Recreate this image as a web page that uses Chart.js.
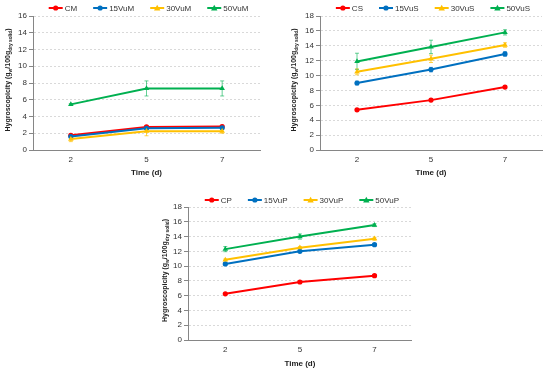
<!DOCTYPE html>
<html>
<head>
<meta charset="utf-8">
<script src="https://cdn.jsdelivr.net/npm/chart.js@4"></script>
<style>
  body { margin: 0; background: #fff; }
  #wrap { position: relative; width: 550px; height: 371px; }
  .box { position: absolute; }
</style>
</head>
<body>
<div id="wrap">
  <div class="box" style="left:0;top:0;width:275px;height:180px"><canvas id="chartM"></canvas></div>
  <div class="box" style="left:275px;top:0;width:275px;height:180px"><canvas id="chartS"></canvas></div>
  <div class="box" style="left:140px;top:180px;width:275px;height:191px"><canvas id="chartP"></canvas></div>
</div>
<script>
// time axis (days)
const times = ['2', '5', '7'];

// M samples
const namesM = ['CM', '15VuM', '30VuM', '50VuM'];
const valuesM = [[1.75, 2.75, 2.8], [1.6, 2.6, 2.65], [1.3, 2.25, 2.25], [5.45, 7.35, 7.35]];
const errorsM = [[0.15, 0.15, 0.15], [0.1, 0.1, 0.1], [0.3, 0.55, 0.25], [0.1, 0.9, 0.9]];
const yMaxM = 16;

// S samples
const namesS = ['CS', '15VuS', '30VuS', '50VuS'];
const valuesS = [[5.4, 6.7, 8.45], [9.0, 10.8, 12.9], [10.5, 12.25, 14.1], [11.9, 13.85, 15.8]];
const errorsS = [[0.15, 0.2, 0.15], [0.25, 0.3, 0.3], [0.4, 0.5, 0.3], [1.1, 0.9, 0.35]];
const yMaxS = 18;

// P samples
const namesP = ['CP', '15VuP', '30VuP', '50VuP'];
const valuesP = [[6.25, 7.85, 8.7], [10.3, 12.0, 12.9], [10.85, 12.5, 13.7], [12.3, 14.0, 15.55]];
const errorsP = [[0.1, 0.1, 0.15], [0.15, 0.15, 0.15], [0.1, 0.15, 0.2], [0.35, 0.35, 0.2]];
const yMaxP = 18;

const colors = ['#ff0000', '#0070c0', '#ffc000', '#00b050'];
const errColors = ['rgba(255,0,0,0.6)', 'rgba(0,112,192,0.6)', 'rgba(255,192,0,0.7)', 'rgba(0,176,80,0.6)'];
const shapes = ['circle', 'circle', 'triangle', 'triangle'];
const FONT = 'Arial, "Liberation Sans", sans-serif';

function drawMarker(g, x, y, color, shape) {
  g.fillStyle = color;
  g.beginPath();
  if (shape === 'circle') {
    g.arc(x, y, 2.6, 0, Math.PI * 2);
  } else {
    g.moveTo(x, y - 3.2); g.lineTo(x + 3.2, y + 2.4); g.lineTo(x - 3.2, y + 2.4); g.closePath();
  }
  g.fill();
}

// legend: short line with marker, then label
const lineLegend = {
  id: 'lineLegend',
  afterDraw(chart, args, opts) {
    const ctx = chart.ctx;
    ctx.save();
    ctx.font = '8px ' + FONT;
    const items = chart.data.datasets.map(ds => ({ ds, w: 14 + 2 + ctx.measureText(ds.label).width }));
    const gap = 16;
    const total = items.reduce((a, it) => a + it.w, 0) + gap * (items.length - 1);
    let x = (chart.chartArea.left + chart.chartArea.right) / 2 - total / 2 + 2;
    const y = opts.y;
    items.forEach((it, i) => {
      ctx.strokeStyle = colors[i];
      ctx.lineWidth = 2;
      ctx.beginPath(); ctx.moveTo(x, y); ctx.lineTo(x + 14, y); ctx.stroke();
      drawMarker(ctx, x + 7, y, colors[i], shapes[i]);
      ctx.fillStyle = '#333';
      ctx.textBaseline = 'middle';
      ctx.fillText(it.ds.label, x + 16, y + 0.5);
      x += it.w + gap;
    });
    ctx.restore();
  }
};

const errorBars = {
  id: 'errorBars',
  beforeDatasetsDraw(chart) {
    const ctx = chart.ctx;
    const y = chart.scales.y;
    chart.data.datasets.forEach((ds, i) => {
      const meta = chart.getDatasetMeta(i);
      meta.data.forEach((pt, j) => {
        const e = ds.errors[j];
        const top = y.getPixelForValue(ds.data[j] + e);
        const bot = y.getPixelForValue(ds.data[j] - e);
        ctx.save();
        ctx.strokeStyle = ds.errorColor;
        ctx.lineWidth = 1;
        ctx.beginPath();
        ctx.moveTo(pt.x, top); ctx.lineTo(pt.x, bot);
        ctx.moveTo(pt.x - 2, top); ctx.lineTo(pt.x + 2, top);
        ctx.moveTo(pt.x - 2, bot); ctx.lineTo(pt.x + 2, bot);
        ctx.stroke();
        ctx.restore();
      });
    });
  }
};

// y title with subscripts
const yTitle = {
  id: 'yTitle',
  afterDraw(chart, args, opts) {
    const ctx = chart.ctx;
    const parts = [['Hygroscopicity (g', 0], ['w', 1], ['/100g', 0], ['dry solid', 1], [')', 0]];
    const big = 'bold 7px ' + FONT, small = 'bold 4.8px ' + FONT;
    let total = 0;
    parts.forEach(p => { ctx.font = p[1] ? small : big; total += ctx.measureText(p[0]).width; });
    const cy = (chart.chartArea.top + chart.chartArea.bottom) / 2 - 3;
    ctx.save();
    ctx.translate(opts.x, cy);
    ctx.rotate(-Math.PI / 2);
    ctx.fillStyle = '#222';
    ctx.textBaseline = 'middle';
    let x = -total / 2;
    parts.forEach(p => {
      ctx.font = p[1] ? small : big;
      ctx.fillText(p[0], x, p[1] ? 2.2 : 0);
      x += ctx.measureText(p[0]).width;
    });
    ctx.restore();
  }
};

function makeChart(id, names, values, errors, yMax, area, titleX, legendY) {
  const canvas = document.getElementById(id);
  const h = canvas.parentNode.clientHeight;
  const datasets = names.map((n, i) => ({
    label: n,
    data: values[i],
    errors: errors[i],
    errorColor: errColors[i],
    borderColor: colors[i],
    backgroundColor: colors[i],
    borderWidth: 2,
    pointStyle: shapes[i],
    pointRadius: shapes[i] === 'circle' ? 2.6 : 3.2,
    pointBorderWidth: 0,
    pointHoverRadius: 3,
    order: names.length - i, // later series on top, like the original
    tension: 0
  }));
  return new Chart(canvas, {
    type: 'line',
    data: { labels: times, datasets: datasets },
    plugins: [errorBars, yTitle, lineLegend],
    options: {
      responsive: true,
      maintainAspectRatio: false,
      animation: false,
      layout: { padding: { left: 0, right: area.right, top: area.top, bottom: 0 } },
      plugins: {
        tooltip: { enabled: false },
        legend: { display: false },
        yTitle: { x: titleX },
        lineLegend: { y: legendY }
      },
      scales: {
        x: {
          offset: true,
          grid: { display: false, drawTicks: false },
          border: { color: '#868686', width: 1 },
          ticks: { color: '#333', font: { family: FONT, size: 8 }, padding: 5 },
          title: { display: true, text: 'Time (d)', color: '#222', font: { family: FONT, size: 8, weight: 'bold' }, padding: { top: 0, bottom: 2 } },
          afterFit(s) { s.height = h - area.bottom; }
        },
        y: {
          min: 0,
          max: yMax,
          ticks: { stepSize: 2, color: '#333', font: { family: FONT, size: 8 }, padding: 2 },
          grid: { color: '#d9d9d9', drawTicks: true, tickLength: 4, tickColor: '#868686', tickBorderDash: [] },
          border: { color: '#868686', width: 1, dash: [2, 2] },
          afterFit(s) { s.width = area.left; }
        }
      }
    }
  });
}

makeChart('chartM', namesM, valuesM, errorsM, yMaxM, { left: 33, right: 15, top: 16, bottom: 150 }, 8, 8);
makeChart('chartS', namesS, valuesS, errorsS, yMaxS, { left: 45, right: 8, top: 16, bottom: 150 }, 19, 8);
makeChart('chartP', namesP, valuesP, errorsP, yMaxP, { left: 48, right: 3, top: 27, bottom: 160 }, 25, 20);
</script>
</body>
</html>
